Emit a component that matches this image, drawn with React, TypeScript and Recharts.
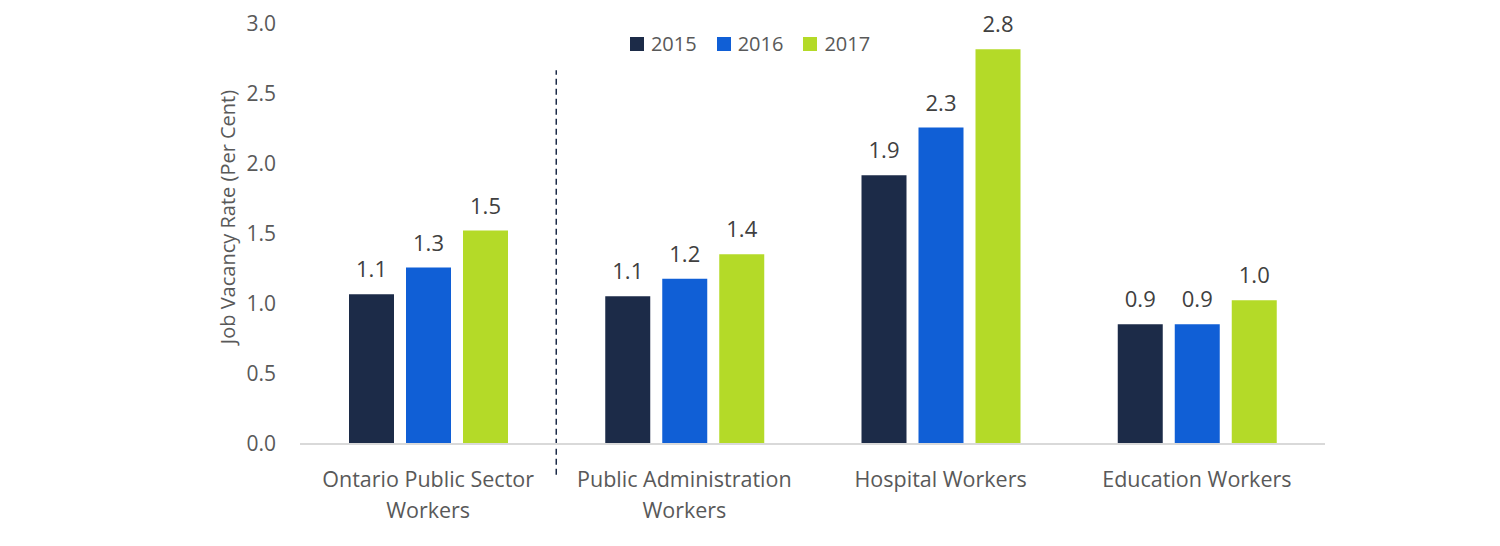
import { BarChart, Bar, XAxis, YAxis, Legend, LabelList, ReferenceLine, Label } from 'recharts';

const categories = [
  'Ontario Public Sector Workers',
  'Public Administration Workers',
  'Hospital Workers',
  'Education Workers',
];
// how each category label is wrapped under the axis
const categoryLines = [
  ['Ontario Public Sector', 'Workers'],
  ['Public Administration', 'Workers'],
  ['Hospital Workers'],
  ['Education Workers'],
];
const rate2015 = [1.07, 1.055, 1.92, 0.855];
const rate2016 = [1.26, 1.18, 2.26, 0.855];
const rate2017 = [1.525, 1.355, 2.82, 1.026];
const yTicks = [0, 0.5, 1, 1.5, 2, 2.5, 3];

const SERIES = [
  { key: 'y2015', name: '2015', color: '#1c2b48' },
  { key: 'y2016', name: '2016', color: '#105fd6' },
  { key: 'y2017', name: '2017', color: '#b4da28' },
];

const FONT = '"Open Sans", "Noto Sans", sans-serif';
const TEXT = '#595959';

const data = categories.map((name, i) => ({
  name,
  y2015: rate2015[i],
  y2016: rate2016[i],
  y2017: rate2017[i],
}));

function CategoryTick({ x, y, payload, index }: any) {
  const lines = categoryLines[index] ?? [payload.value];
  return (
    <text x={x} y={y + 35} textAnchor="middle" fill={TEXT} style={{ fontSize: 21.5, fontFamily: FONT }}>
      {lines.map((line: string, i: number) => (
        <tspan key={i} x={x} dy={i === 0 ? 0 : 31}>
          {line}
        </tspan>
      ))}
    </text>
  );
}

function YearLegend() {
  return (
    <div style={{ display: 'flex', justifyContent: 'center', gap: 20, fontFamily: FONT, fontSize: 20, color: TEXT }}>
      {SERIES.map((s) => (
        <div key={s.key} style={{ display: 'flex', alignItems: 'center', gap: 7 }}>
          <span style={{ width: 14, height: 14, background: s.color, display: 'inline-block' }} />
          <span>{s.name}</span>
        </div>
      ))}
    </div>
  );
}

// rotated axis title, placed a little above the plot's vertical centre like the source
function AxisTitle() {
  return (
    <text
      transform="translate(227,217) rotate(-90)"
      textAnchor="middle"
      dominantBaseline="central"
      fill={TEXT}
      style={{ fontSize: 20, fontFamily: FONT }}
    >
      Job Vacancy Rate (Per Cent)
    </text>
  );
}

export default function App() {
  return (
    <div style={{ position: 'absolute', left: 0, top: 0, background: '#fff' }}>
      <BarChart
        width={1500}
        height={546}
        data={data}
        margin={{ top: 24, right: 175, bottom: 72, left: 0 }}
        barSize={45}
        barGap={12}
      >
        <XAxis
          dataKey="name"
          height={30}
          axisLine={{ stroke: '#d9d9d9', strokeWidth: 2 }}
          tickLine={false}
          tick={<CategoryTick />}
          interval={0}
        />
        <YAxis
          width={300}
          domain={[0, 3]}
          ticks={yTicks}
          tickFormatter={(v: number) => v.toFixed(1)}
          axisLine={false}
          tickLine={false}
          tickSize={0}
          tickMargin={24}
          tick={{ fill: TEXT, fontSize: 21, fontFamily: FONT }}
        >
          <Label content={<AxisTitle />} />
        </YAxis>
        <Legend
          verticalAlign="middle"
          align="center"
          content={<YearLegend />}
          wrapperStyle={{ left: 0, width: 1500, top: 30 }}
        />
        <ReferenceLine
          segment={[
            { x: categories[0], y: -0.22 },
            { x: categories[0], y: 2.67 },
          ]}
          position="end"
          ifOverflow="visible"
          stroke="#1c2b48"
          strokeWidth={1.5}
          strokeDasharray="6 4"
        />
        {SERIES.map((s) => (
          <Bar key={s.key} dataKey={s.key} name={s.name} fill={s.color} isAnimationActive={false}>
            <LabelList
              dataKey={s.key}
              position="top"
              offset={17}
              formatter={(v: any) => Number(v).toFixed(1)}
              style={{ fill: '#404040', fontSize: 22, fontFamily: FONT }}
            />
          </Bar>
        ))}
      </BarChart>
    </div>
  );
}
